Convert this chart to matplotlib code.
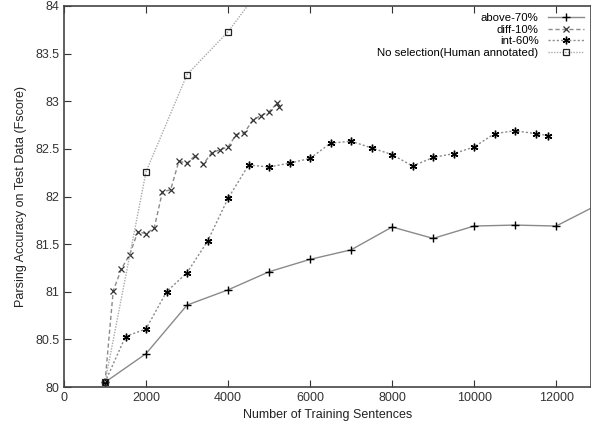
import matplotlib
matplotlib.use("Agg")
import matplotlib.pyplot as plt

plt.rcParams['font.family'] = ['Liberation Sans', 'DejaVu Sans']

# above-70%
above_x = [1000, 2000, 3000, 4000, 5000, 6000, 7000, 8000, 9000, 10000, 11000, 12000, 13000]
above_y = [80.05, 80.35, 80.86, 81.02, 81.21, 81.34, 81.44, 81.68, 81.56, 81.69, 81.70, 81.69, 81.91]

# diff-10%
diff_x = [1000, 1200, 1400, 1600, 1800, 2000, 2200, 2400, 2600, 2800, 3000, 3200, 3400,
          3600, 3800, 4000, 4200, 4400, 4600, 4800, 5000, 5200, 5250]
diff_y = [80.05, 81.01, 81.24, 81.39, 81.63, 81.61, 81.67, 82.05, 82.07, 82.37, 82.35, 82.43, 82.34,
          82.46, 82.49, 82.52, 82.65, 82.67, 82.80, 82.85, 82.89, 82.98, 82.94]

# int-60%
int_x = [1000, 1500, 2000, 2500, 3000, 3500, 4000, 4500, 5000, 5500, 6000, 6500, 7000,
         7500, 8000, 8500, 9000, 9500, 10000, 10500, 11000, 11500, 11800]
int_y = [80.05, 80.53, 80.61, 81.00, 81.20, 81.53, 81.98, 82.33, 82.31, 82.35, 82.40, 82.56, 82.58,
         82.51, 82.44, 82.32, 82.41, 82.45, 82.52, 82.66, 82.69, 82.66, 82.64]

# No selection (Human annotated)
human_x = [1000, 2000, 3000, 4000, 5000]
human_y = [80.05, 82.26, 83.28, 83.73, 84.30]

fig = plt.figure(figsize=(5.91, 4.28), dpi=100)
ax = fig.add_axes([64 / 591, 41 / 428, 1 - 64 / 591, 381 / 428])

grey = '#8a8a8a'
ax.plot(above_x, above_y, color=grey, lw=1.0, ls='-', marker='+', ms=5.5,
        mec='black', mew=1.0, label='above-70%')
ax.plot(diff_x, diff_y, color=grey, lw=1.0, ls=(0, (3, 2)), marker='x', ms=4.5,
        mec='#333333', mew=0.9, label='diff-10%')
ax.plot(int_x, int_y, color=grey, lw=1.0, ls=(0, (1.5, 1.5)), marker=(6, 2, 0), ms=5.5,
        mec='black', mew=1.0, label='int-60%')
ax.plot(human_x, human_y, color='#aaaaaa', lw=1.0, ls=(0, (1, 1)), marker='s', ms=4,
        mfc='none', mec='#222222', mew=0.9, label='No selection(Human annotated)')

ax.set_xlim(0, 12850)
ax.set_ylim(80, 84)
ax.set_xticks(range(0, 12001, 2000))
ax.set_yticks([80, 80.5, 81, 81.5, 82, 82.5, 83, 83.5, 84])
ax.set_yticklabels(['80', '80.5', '81', '81.5', '82', '82.5', '83', '83.5', '84'])
ax.tick_params(direction='in', top=True, right=False, length=5, labelsize=9,
               colors='#333333')
for s in ax.spines.values():
    s.set_color('#444444')
    s.set_linewidth(1.2)

ax.set_xlabel('Number of Training Sentences', fontsize=9, color='#222222', labelpad=4)
ax.set_ylabel('Parsing Accuracy on Test Data (Fscore)', fontsize=9, color='#222222', labelpad=6)

leg = ax.legend(loc='upper right', frameon=False, markerfirst=False, fontsize=8.2,
                handlelength=3.2, labelspacing=0.15, borderaxespad=0.2, handletextpad=0.8)

fig.savefig('out.png', dpi=100)
